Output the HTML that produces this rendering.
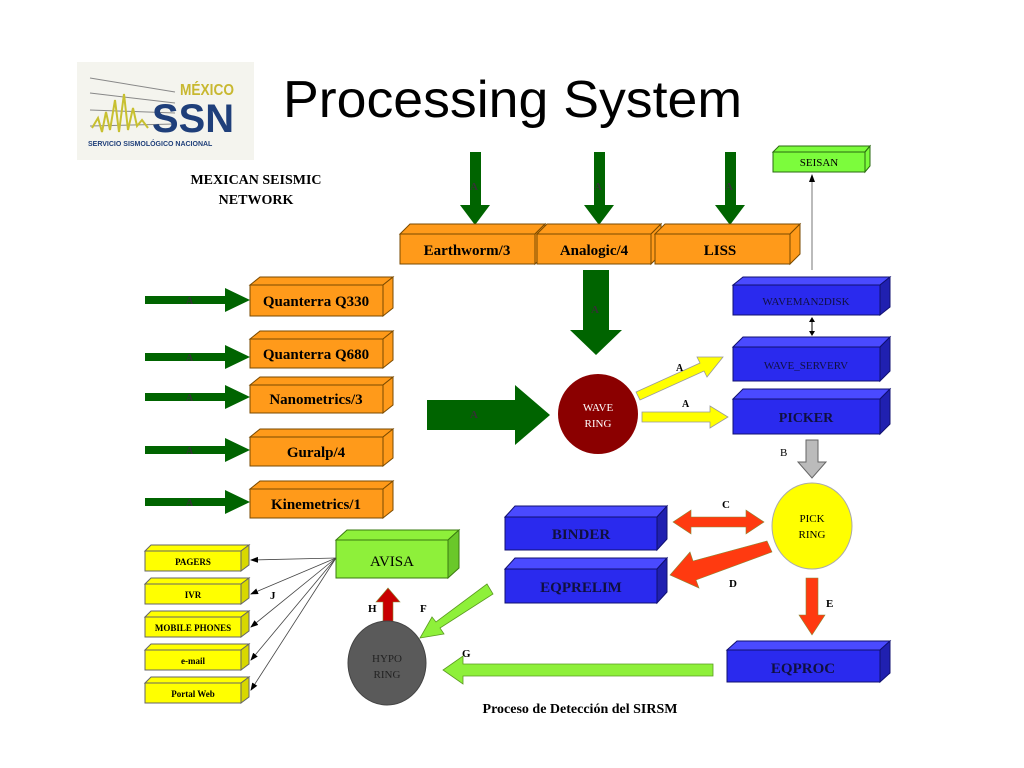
<!DOCTYPE html>
<html><head><meta charset="utf-8"><style>
html,body{margin:0;padding:0;background:#fff;width:1024px;height:768px;overflow:hidden}
svg text{font-family:"Liberation Serif",serif;font-weight:bold}
</style></head><body>
<svg width="1024" height="768" viewBox="0 0 1024 768" xmlns="http://www.w3.org/2000/svg">
<defs>
<marker id="ah" markerWidth="8" markerHeight="8" refX="7" refY="4" orient="auto" markerUnits="userSpaceOnUse"><path d="M0,1 L8,4 L0,7 Z" fill="#000"/></marker>
</defs>
<!-- logo -->
<rect x="77" y="62" width="177" height="98" fill="#f4f4ee"/>
<g stroke="#888" stroke-width="1"><line x1="90" y1="78" x2="175" y2="92"/><line x1="90" y1="93" x2="175" y2="103"/><line x1="90" y1="110" x2="175" y2="113"/><line x1="90" y1="126" x2="175" y2="124"/></g>
<polyline points="92,128 98,118 102,132 106,112 110,130 115,100 119,132 124,94 128,130 133,108 137,126 142,120 148,128" fill="none" stroke="#c8c030" stroke-width="2"/>
<text x="180" y="95" font-size="16" fill="#c8b830" textLength="54" lengthAdjust="spacingAndGlyphs" style="font-family:'Liberation Sans',sans-serif">MÉXICO</text>
<text x="152" y="132" font-size="40" fill="#1f3f7a" textLength="82" lengthAdjust="spacingAndGlyphs" style="font-family:'Liberation Sans',sans-serif">SSN</text>
<text x="88" y="146" font-size="7" fill="#1f3f7a" style="font-family:'Liberation Sans',sans-serif">SERVICIO SISMOLÓGICO NACIONAL</text>
<text x="283" y="117" font-size="52" fill="#000" textLength="459" lengthAdjust="spacingAndGlyphs" style="font-family:'Liberation Sans',sans-serif;font-weight:normal">Processing System</text>
<text x="256" y="184" font-size="14" text-anchor="middle">MEXICAN SEISMIC</text>
<text x="256" y="204" font-size="14" text-anchor="middle">NETWORK</text>

<!-- top green arrows -->
<g fill="#006400">
<path d="M470,152h11v53h9l-15,20l-15,-20h10z"/>
<path d="M594,152h11v53h9l-15,20l-15,-20h10z"/>
<path d="M725,152h11v53h9l-15,20l-15,-20h10z"/>
<path d="M583,270h26v60h13l-26,25l-26,-25h13z"/>
<path d="M427,400h88v-15l35,30l-35,30v-15h-88z"/>
</g>
<g font-size="11" fill="#333"><text x="470" y="190">A</text><text x="594" y="190">A</text><text x="725" y="190">A</text><text x="591" y="313">A</text><text x="470" y="418">A</text></g>

<!-- orange top boxes -->
<g fill="#ff9a1a" stroke="#7a4a00" stroke-width="1">
<polygon points="400,234 410,224 545,224 535,234"/><polygon points="535,234 545,224 545,254 535,264"/><rect x="400" y="234" width="135" height="30"/>
<polygon points="537,234 547,224 661,224 651,234"/><polygon points="651,234 661,224 661,254 651,264"/><rect x="537" y="234" width="114" height="30"/>
<polygon points="655,234 665,224 800,224 790,234"/><polygon points="790,234 800,224 800,254 790,264"/><rect x="655" y="234" width="135" height="30"/>
</g>
<g font-size="15" text-anchor="middle" fill="#000"><text x="467" y="255">Earthworm/3</text><text x="594" y="255">Analogic/4</text><text x="720" y="255">LISS</text></g>

<!-- left orange boxes -->
<g fill="#ff9a1a" stroke="#7a4a00" stroke-width="1">
<polygon points="250,285 260,277 393,277 383,285"/><polygon points="383,285 393,277 393,308 383,316"/><rect x="250" y="285" width="133" height="31"/>
<polygon points="250,339 260,331 393,331 383,339"/><polygon points="383,339 393,331 393,360 383,368"/><rect x="250" y="339" width="133" height="29"/>
<polygon points="250,385 260,377 393,377 383,385"/><polygon points="383,385 393,377 393,405 383,413"/><rect x="250" y="385" width="133" height="28"/>
<polygon points="250,437 260,429 393,429 383,437"/><polygon points="383,437 393,429 393,458 383,466"/><rect x="250" y="437" width="133" height="29"/>
<polygon points="250,489 260,481 393,481 383,489"/><polygon points="383,489 393,481 393,510 383,518"/><rect x="250" y="489" width="133" height="29"/>
</g>
<g font-size="15" text-anchor="middle" fill="#000"><text x="316" y="306">Quanterra Q330</text><text x="316" y="359">Quanterra Q680</text><text x="316" y="404">Nanometrics/3</text><text x="316" y="457">Guralp/4</text><text x="316" y="509">Kinemetrics/1</text></g>
<g fill="#006400">
<path d="M145,296h80v-8l25,12l-25,12v-8h-80z"/>
<path d="M145,353h80v-8l25,12l-25,12v-8h-80z"/>
<path d="M145,393h80v-8l25,12l-25,12v-8h-80z"/>
<path d="M145,446h80v-8l25,12l-25,12v-8h-80z"/>
<path d="M145,498h80v-8l25,12l-25,12v-8h-80z"/>
</g>
<g font-size="10" fill="#333"><text x="186" y="304">A</text><text x="186" y="361">A</text><text x="186" y="401">A</text><text x="186" y="454">A</text><text x="186" y="506">A</text></g>

<!-- wave ring -->
<circle cx="598" cy="414" r="40" fill="#8b0000"/>
<text x="598" y="411" font-size="11" fill="#fff" text-anchor="middle" style="font-weight:normal">WAVE</text>
<text x="598" y="427" font-size="11" fill="#fff" text-anchor="middle" style="font-weight:normal">RING</text>
<g fill="#ffff00" stroke="#999" stroke-width="0.8">
<path d="M636,392 L700,363 L697,357 L723,357 L707,377 L704,371 L640,400 Z"/>
<path d="M642,412h68v-6l18,11l-18,11v-6h-68z"/>
</g>
<g font-size="10" fill="#000"><text x="676" y="371">A</text><text x="682" y="407">A</text></g>

<!-- blue right boxes -->
<g fill="#2a2aee" stroke="#101070" stroke-width="1">
<polygon points="733,285 743,277 890,277 880,285" fill="#4a4aff"/><polygon points="880,285 890,277 890,307 880,315" fill="#2020b0"/><rect x="733" y="285" width="147" height="30"/>
<polygon points="733,347 743,337 890,337 880,347" fill="#4a4aff"/><polygon points="880,347 890,337 890,371 880,381" fill="#2020b0"/><rect x="733" y="347" width="147" height="34"/>
<polygon points="733,399 743,389 890,389 880,399" fill="#4a4aff"/><polygon points="880,399 890,389 890,424 880,434" fill="#2020b0"/><rect x="733" y="399" width="147" height="35"/>
</g>
<g text-anchor="middle" fill="#101040"><text x="806" y="305" font-size="11" style="font-weight:normal">WAVEMAN2DISK</text><text x="806" y="369" font-size="11" style="font-weight:normal">WAVE_SERVERV</text><text x="806" y="422" font-size="14">PICKER</text></g>

<!-- seisan -->
<g fill="#7cfc3c" stroke="#2a6a10" stroke-width="1">
<polygon points="773,152 779,146 870,146 865,152"/><polygon points="865,152 870,146 870,166 865,172"/><rect x="773" y="152" width="92" height="20"/>
</g>
<text x="819" y="166" font-size="11" text-anchor="middle" style="font-weight:normal">SEISAN</text>
<line x1="812" y1="270" x2="812" y2="175" stroke="#777" stroke-width="1" marker-end="url(#ah)"/>
<line x1="812" y1="320" x2="812" y2="333" stroke="#000" stroke-width="1"/>
<path d="M809,322l3,-5l3,5zM809,331l3,5l3,-5z" fill="#000"/>

<!-- B gray arrow -->
<path d="M806,440h12v22h8l-14,16l-14,-16h8z" fill="#bbb" stroke="#666"/>
<text x="780" y="456" font-size="11" style="font-weight:normal">B</text>

<!-- pick ring -->
<ellipse cx="812" cy="526" rx="40" ry="43" fill="#ffff00" stroke="#aaa"/>
<text x="812" y="522" font-size="11" text-anchor="middle" style="font-weight:normal">PICK</text>
<text x="812" y="538" font-size="11" text-anchor="middle" style="font-weight:normal">RING</text>

<!-- binder/eqprelim/eqproc -->
<g fill="#2a2aee" stroke="#101070" stroke-width="1">
<polygon points="505,517 515,506 667,506 657,517" fill="#4a4aff"/><polygon points="657,517 667,506 667,539 657,550" fill="#2020b0"/><rect x="505" y="517" width="152" height="33"/>
<polygon points="505,569 515,558 667,558 657,569" fill="#4a4aff"/><polygon points="657,569 667,558 667,592 657,603" fill="#2020b0"/><rect x="505" y="569" width="152" height="34"/>
<polygon points="727,650 737,641 890,641 880,650" fill="#4a4aff"/><polygon points="880,650 890,641 890,673 880,682" fill="#2020b0"/><rect x="727" y="650" width="153" height="32"/>
</g>
<g font-size="15" text-anchor="middle" fill="#101040"><text x="581" y="539">BINDER</text><text x="581" y="592">EQPRELIM</text><text x="803" y="673">EQPROC</text></g>

<!-- red arrows -->
<g fill="#ff3a10" stroke="#883" stroke-width="0.6">
<path d="M673,522l18,-12v7h55v-7l18,12l-18,12v-7h-55v7z"/>
<path d="M767,541 L772,552 L696,580 L699,588 L670,575 L690,552 L693,561 Z"/>
<path d="M806,578h12v37h7l-13,20l-13,-20h7z"/>
<path d="M383,622h10v-20h7l-12,-14l-12,14h7z" fill="#c80000"/>
</g>
<g font-size="11" style="font-weight:normal" fill="#000"><text x="722" y="508">C</text><text x="729" y="587">D</text><text x="826" y="607">E</text><text x="368" y="612">H</text><text x="420" y="612">F</text><text x="462" y="657">G</text><text x="270" y="599">J</text></g>

<!-- green arrows F and G -->
<g fill="#8ef03a" stroke="#5a9a20" stroke-width="0.8">
<path d="M713,664v12h-250v8l-20,-14l20,-14v8z"/>
<path d="M487,584 L493,594 L440,628 L444,634 L420,638 L432,617 L436,622 Z"/>
</g>

<!-- hypo ring -->
<ellipse cx="387" cy="663" rx="39" ry="42" fill="#5a5a5a" stroke="#444"/>
<text x="387" y="662" font-size="11" fill="#222" text-anchor="middle" style="font-weight:normal">HYPO</text>
<text x="387" y="678" font-size="11" fill="#222" text-anchor="middle" style="font-weight:normal">RING</text>

<!-- avisa -->
<g fill="#8ef03a" stroke="#3a7a10" stroke-width="1">
<polygon points="336,540 347,530 459,530 448,540"/><polygon points="448,540 459,530 459,568 448,578" fill="#6ac82a"/><rect x="336" y="540" width="112" height="38"/>
</g>
<text x="392" y="566" font-size="15" text-anchor="middle" style="font-weight:normal">AVISA</text>

<!-- yellow output boxes -->
<g fill="#ffff00" stroke="#666" stroke-width="1">
<polygon points="145,551 151,545 249,545 241,551"/><polygon points="241,551 249,545 249,565 241,571" fill="#d8d800"/><rect x="145" y="551" width="96" height="20"/>
<polygon points="145,584 151,578 249,578 241,584"/><polygon points="241,584 249,578 249,598 241,604" fill="#d8d800"/><rect x="145" y="584" width="96" height="20"/>
<polygon points="145,617 151,611 249,611 241,617"/><polygon points="241,617 249,611 249,631 241,637" fill="#d8d800"/><rect x="145" y="617" width="96" height="20"/>
<polygon points="145,650 151,644 249,644 241,650"/><polygon points="241,650 249,644 249,664 241,670" fill="#d8d800"/><rect x="145" y="650" width="96" height="20"/>
<polygon points="145,683 151,677 249,677 241,683"/><polygon points="241,683 249,677 249,697 241,703" fill="#d8d800"/><rect x="145" y="683" width="96" height="20"/>
</g>
<g font-size="9" text-anchor="middle" fill="#000"><text x="193" y="565">PAGERS</text><text x="193" y="598">IVR</text><text x="193" y="631">MOBILE PHONES</text><text x="193" y="664">e-mail</text><text x="193" y="697">Portal Web</text></g>
<g stroke="#444" stroke-width="0.8" marker-end="url(#ah)">
<line x1="336" y1="558" x2="251" y2="560"/>
<line x1="336" y1="558" x2="251" y2="594"/>
<line x1="336" y1="558" x2="251" y2="627"/>
<line x1="336" y1="558" x2="251" y2="660"/>
<line x1="336" y1="558" x2="251" y2="690"/>
</g>

<text x="580" y="713" font-size="14" text-anchor="middle">Proceso de Detección del SIRSM</text>
</svg>
</body></html>
